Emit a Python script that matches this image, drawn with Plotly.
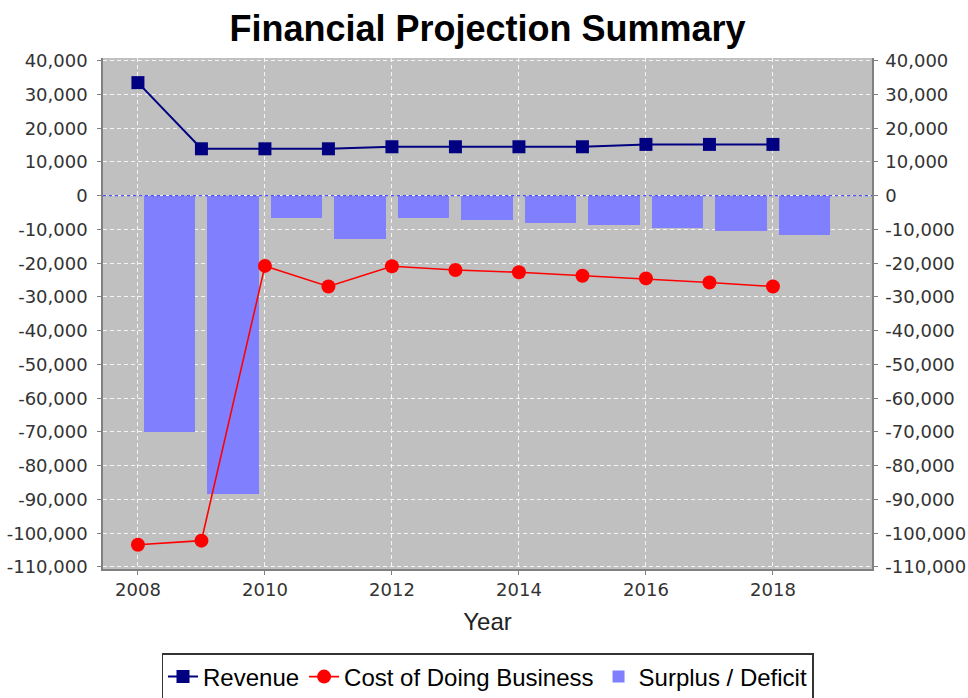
import plotly.graph_objects as go

# Projection years and the three series
years = [2008, 2009, 2010, 2011, 2012, 2013, 2014, 2015, 2016, 2017, 2018]
revenue = [33500, 13900, 13900, 13900, 14500, 14500, 14500, 14500, 15200, 15200, 15200]
cost_of_business = [-103400, -102200, -20800, -26900, -20900, -22000, -22700, -23700, -24500, -25700, -26900]
surplus_deficit = [-69900, -88300, -6700, -12800, -6500, -7300, -8000, -8700, -9700, -10600, -11700]

# Value axis ticks (shared by the left and right axes)
y_ticks = [40000, 30000, 20000, 10000, 0, -10000, -20000, -30000, -40000, -50000,
           -60000, -70000, -80000, -90000, -100000, -110000]
y_tick_text = [f"{v:,}" for v in y_ticks]
x_ticks = [2008, 2010, 2012, 2014, 2016, 2018]

y_range = [-110600, 40800]
x_range = [2007.45, 2019.56]

tick_font = dict(family="DejaVu Sans", size=18, color="#333333")
axis_color = "#808080"

fig = go.Figure()

# Surplus / deficit bars span most of each year
fig.add_trace(go.Bar(
    x=years, y=surplus_deficit, name="Surplus / Deficit",
    marker=dict(color="#8080FF", line=dict(width=0)),
    width=0.81, offset=0.095, legendrank=3,
))
fig.add_trace(go.Scatter(
    x=years, y=cost_of_business, name="Cost of Doing Business",
    mode="lines+markers",
    line=dict(color="#FF0000", width=1.6),
    marker=dict(symbol="circle", size=14, color="#FF0000"),
    legendrank=2,
))
fig.add_trace(go.Scatter(
    x=years, y=revenue, name="Revenue",
    mode="lines+markers",
    line=dict(color="#000080", width=2),
    marker=dict(symbol="square", size=13, color="#000080"),
    legendrank=1,
))
# Empty trace so the right-hand value axis is drawn
fig.add_trace(go.Scatter(x=[], y=[], yaxis="y2", showlegend=False, hoverinfo="skip"))

fig.update_layout(
    width=968, height=698,
    margin=dict(l=103, r=96, t=58, b=129, autoexpand=False),
    paper_bgcolor="white",
    plot_bgcolor="#C0C0C0",
    bargap=0,
    title=dict(
        text="<b>Financial Projection Summary</b>",
        font=dict(family="Liberation Sans", size=36, color="black"),
        x=0.5, xref="paper", xanchor="center",
        y=1 - 28 / 698, yref="container", yanchor="middle",
    ),
    xaxis=dict(
        range=x_range, tickvals=x_ticks, ticktext=[str(v) for v in x_ticks],
        tickfont=tick_font, automargin=False,
        showgrid=True, gridcolor="#F4F4F4", griddash="4px,3px", gridwidth=1,
        zeroline=False,
        showline=True, linecolor=axis_color, linewidth=1.5,
        ticks="outside", ticklen=4, tickcolor=axis_color,
        title=dict(text="Year", font=dict(family="Liberation Sans", size=24, color="#222222"),
                   standoff=14),
    ),
    yaxis=dict(
        range=y_range, tickvals=y_ticks, ticktext=y_tick_text,
        tickfont=tick_font, automargin=False,
        showgrid=True, gridcolor="#F4F4F4", griddash="4px,3px", gridwidth=1,
        zeroline=False,
        showline=True, linecolor=axis_color, linewidth=1.5,
        ticks="outside", ticklen=4, tickcolor=axis_color,
        ticklabelstandoff=6,
    ),
    yaxis2=dict(
        overlaying="y", side="right",
        range=y_range, tickvals=y_ticks, ticktext=y_tick_text,
        tickfont=tick_font, automargin=False,
        showgrid=False, zeroline=False,
        showline=True, linecolor=axis_color, linewidth=1.5,
        ticks="outside", ticklen=4, tickcolor=axis_color,
        ticklabelstandoff=4,
    ),
    legend=dict(
        orientation="h",
        x=0.5, xanchor="center", xref="paper",
        y=1 - 653 / 698, yanchor="top", yref="container",
        font=dict(family="Liberation Sans", size=24, color="black"),
        bordercolor="#333333", borderwidth=1.5,
        bgcolor="white",
        itemwidth=30,
        tracegroupgap=0,
    ),
    showlegend=True,
    shapes=[dict(
        type="line", xref="paper", x0=0, x1=1, yref="y", y0=0, y1=0,
        line=dict(color="#5050FF", width=1.2, dash="3px,3px"),
        layer="above",
    )],
)

fig.write_html("out.html")
